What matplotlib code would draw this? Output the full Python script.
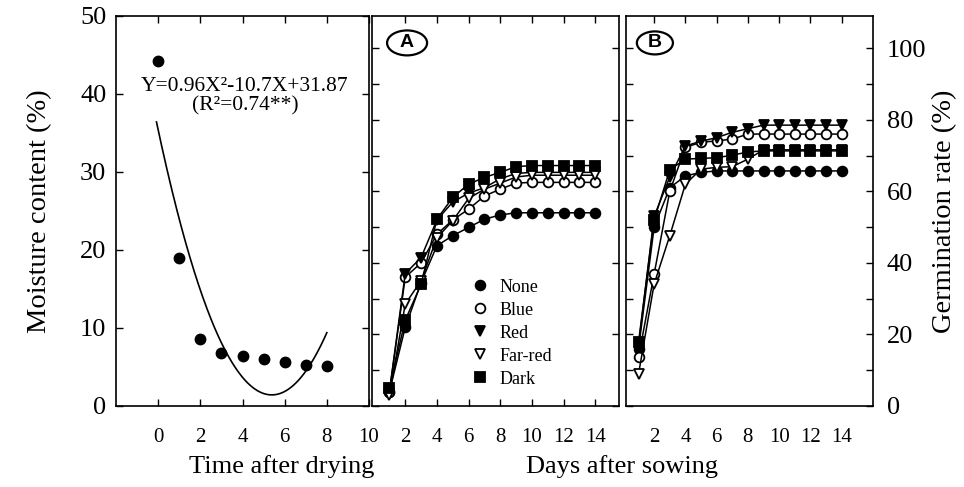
import numpy as np
import matplotlib
matplotlib.use("Agg")
import matplotlib.pyplot as plt
from matplotlib.ticker import MultipleLocator
from matplotlib.patches import Ellipse

plt.rcParams['font.family'] = ['Liberation Serif', 'DejaVu Serif']

# ---------------- data ----------------
dry_time = [0, 1, 2, 3, 4, 5, 6, 7, 8]
moisture = [44.2, 19.0, 8.6, 6.8, 6.4, 6.0, 5.6, 5.3, 5.1]
# quadratic fit as drawn in the figure (a, b, c)
fit_coef = [1.17, -12.61, 35.4]
fit_range = [-0.08, 8.0]
eq_text = "Y=0.96X\u00b2-10.7X+31.87\n(R\u00b2=0.74**)"

days = list(range(1, 15))
series_names = ["None", "Blue", "Red", "Far-red", "Dark"]

none_A = [4, 22, 34.5, 44.8, 47.6, 49.9, 52.2, 53.4, 54, 54, 54, 54, 54, 54]
blue_A = [4, 36, 40, 48, 52, 55, 58.7, 60.6, 62.3, 62.5, 62.5, 62.5, 62.5, 62.5]
red_A = [4, 37, 41.5, 52, 57, 59.5, 61, 63.5, 65, 65.3, 65.3, 65.3, 65.3, 65.3]
farred_A = [3, 28.5, 35, 47, 51.8, 58, 60.6, 62.3, 64, 64.5, 64.5, 64.5, 64.5, 64.5]
dark_A = [5, 24, 34, 52.2, 58.3, 62, 63.9, 65.3, 66.9, 67.2, 67.2, 67.2, 67.2, 67.2]

none_B = [16, 50, 61, 64.3, 65.3, 65.7, 65.7, 65.7, 65.7, 65.7, 65.7, 65.7, 65.7, 65.7]
blue_B = [13.6, 36.9, 60, 72.3, 73.7, 74.1, 74.6, 76, 76, 76, 76, 76, 76, 76]
red_B = [16.8, 53, 64, 72.7, 74, 75, 76.5, 77.5, 78.5, 78.5, 78.5, 78.5, 78.5, 78.5]
farred_B = [8.9, 34.1, 47.6, 62, 66.2, 66.7, 66.9, 69, 71.6, 71.6, 71.6, 71.6, 71.6, 71.6]
dark_B = [17.8, 52, 66, 69, 69.2, 69.4, 70.1, 71, 71.3, 71.3, 71.3, 71.3, 71.3, 71.3]

# ---------------- styles ----------------
styles = {
    "None": dict(marker='o', mfc='black', mec='black'),
    "Blue": dict(marker='o', mfc='white', mec='black'),
    "Red": dict(marker='v', mfc='black', mec='black'),
    "Far-red": dict(marker='v', mfc='white', mec='black'),
    "Dark": dict(marker='s', mfc='black', mec='black'),
}

W, H = 964, 487
fig = plt.figure(figsize=(W / 100, H / 100), dpi=100)

def fx(px):
    return px / W

def fy(py):
    return 1 - py / H

top_px, bot_px = 16, 406
ax0 = fig.add_axes([fx(116), fy(bot_px), fx(369 - 116), (bot_px - top_px) / H])
axA = fig.add_axes([fx(372), fy(bot_px), fx(619 - 372), (bot_px - top_px) / H])
axB = fig.add_axes([fx(626), fy(bot_px), fx(873 - 626), (bot_px - top_px) / H])

XTICK_FS = 15
YTICK_FS = 19
YLABEL_FS = 20.5
XLABEL_FS = 19

# ---------- left panel ----------
ax0.plot(dry_time, moisture, 'o', color='black', ms=7.5, ls='none')
xf = np.linspace(fit_range[0], fit_range[1], 200)
yf = np.polyval(fit_coef, xf)
ax0.plot(xf, yf, color='black', lw=1.2)
ax0.set_xlim(-2, 10)
ax0.set_ylim(0, 50)
ax0.set_xticks([0, 2, 4, 6, 8, 10])
ax0.set_yticks([0, 10, 20, 30, 40, 50])
ax0.tick_params(direction='in', top=True, right=True, length=5, width=1)
ax0.tick_params(axis='x', pad=16, labelsize=XTICK_FS)
ax0.tick_params(axis='y', pad=7, labelsize=YTICK_FS)
ax0.text(4.12, 42.2, eq_text, ha='center', va='top', fontsize=15.5,
         linespacing=1.0)

# ---------- germination panels ----------
def draw_panel(ax, data):
    for name, vals in zip(series_names, data):
        st = styles[name]
        ax.plot(days, vals, color='black', lw=1.1, ms=7, mew=1.3,
                label=name, **st)

draw_panel(axA, [none_A, blue_A, red_A, farred_A, dark_A])
draw_panel(axB, [none_B, blue_B, red_B, farred_B, dark_B])

for ax, xl in ((axA, (-0.1, 15.5)), (axB, (0.2, 16.0))):
    ax.set_xlim(*xl)
    ax.set_ylim(0, 109)
    ax.set_xticks([2, 4, 6, 8, 10, 12, 14])
    ax.yaxis.set_major_locator(MultipleLocator(20))
    ax.yaxis.set_minor_locator(MultipleLocator(10))
    ax.tick_params(which='both', direction='in', top=True, right=True,
                   width=1, length=5)
    ax.tick_params(axis='x', pad=16, labelsize=XTICK_FS)
    ax.tick_params(axis='y', labelleft=False, labelsize=YTICK_FS)

axA.tick_params(axis='y', which='minor', right=False)
axB.tick_params(axis='x', bottom=False)
axB.tick_params(axis='y', labelright=True, pad=10)

# axis titles
fig.text(fx(40), fy(211), "Moisture content (%)", rotation=90, ha='center',
         va='center', fontsize=YLABEL_FS)
fig.text(fx(945), fy(211), "Germination rate (%)", rotation=90, ha='center',
         va='center', fontsize=YLABEL_FS)
fig.text(fx(282), fy(467), "Time after drying", ha='center', va='center',
         fontsize=XLABEL_FS)
fig.text(fx(622), fy(467), "Days after sowing", ha='center', va='center',
         fontsize=XLABEL_FS)

# circled panel letters
for ax, letter, xy, wh in ((axA, "A", (0.142, 0.931), (0.162, 0.064)),
                           (axB, "B", (0.117, 0.931), (0.146, 0.059))):
    ax.add_patch(Ellipse(xy, wh[0], wh[1], transform=ax.transAxes,
                         fc='none', ec='black', lw=1.6, clip_on=False))
    ax.text(xy[0], xy[1], letter, transform=ax.transAxes, ha='center',
            va='center', fontsize=14, fontweight='bold',
            family=['Liberation Sans', 'DejaVu Sans'])

leg = axA.legend(loc='upper left', bbox_to_anchor=(0.37, 0.345), frameon=False,
                 handlelength=1.0, handletextpad=0.6, labelspacing=0.33,
                 fontsize=13, borderaxespad=0)
for h in leg.legend_handles:
    h.set_linestyle('none')

for ax in (ax0, axA, axB):
    for sp in ax.spines.values():
        sp.set_linewidth(1.2)

fig.savefig("out.png", dpi=100)
